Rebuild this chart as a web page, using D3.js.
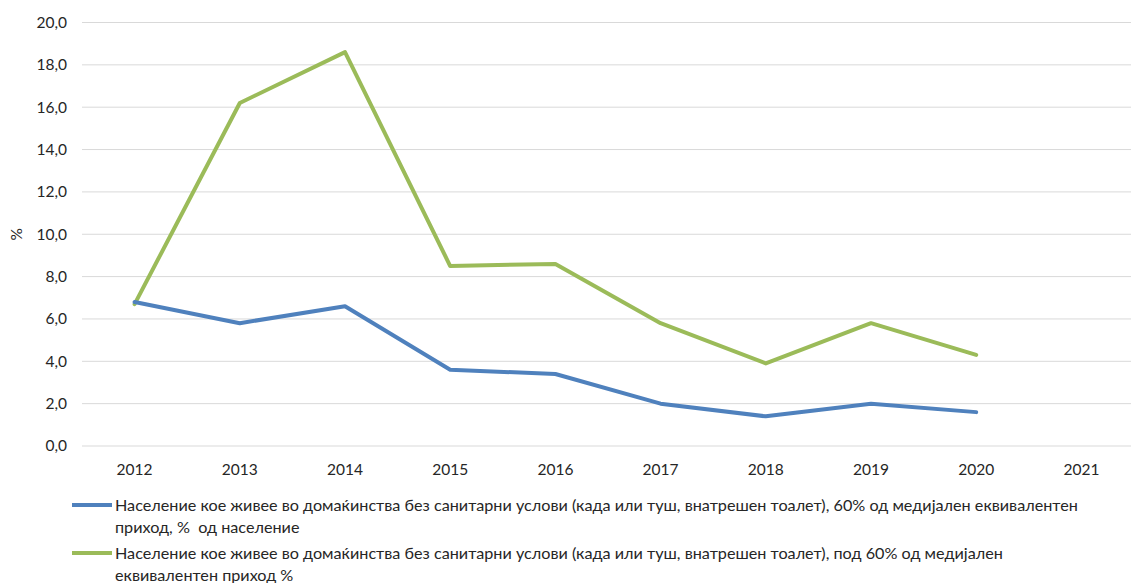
<!DOCTYPE html>
<html><head><meta charset="utf-8">
<script src="https://cdn.jsdelivr.net/npm/d3@7"></script>
<style>
body{margin:0;background:#fff;}
text{font-family:Lato,"Open Sans",sans-serif;fill:#262626;white-space:pre;}
</style></head>
<body>
<svg id="c" width="1131" height="583"></svg>
<script>
const years = ["2012","2013","2014","2015","2016","2017","2018","2019","2020","2021"];
const seriesBlue = [6.8, 5.8, 6.6, 3.6, 3.4, 2.0, 1.4, 2.0, 1.6, null];
const seriesGreen = [6.7, 16.2, 18.6, 8.5, 8.6, 5.8, 3.9, 5.8, 4.3, null];
const yTicks = [0, 2, 4, 6, 8, 10, 12, 14, 16, 18, 20];
const legendBlue = ["Население кое живее во домаќинства без санитарни услови (када или туш, внатрешен тоалет), 60% од медијален еквивалентен", "приход, %  од население"];
const legendGreen = ["Население кое живее во домаќинства без санитарни услови (када или туш, внатрешен тоалет), под 60% од медијален", "еквивалентен приход %"];
const yLabel = "%";

const svg = d3.select("#c");
const pLeft = 82, pRight = 1134, pTop = 22.5, pBottom = 446;
const x = d3.scaleBand().domain(years).range([pLeft, pRight]);
const y = d3.scaleLinear().domain([0, 20]).range([pBottom, pTop]);
const cx = d => x(d) + x.bandwidth() / 2;

// gridlines
svg.append("g").selectAll("line").data(yTicks).join("line")
  .attr("x1", pLeft).attr("x2", pRight)
  .attr("y1", d => y(d)).attr("y2", d => y(d))
  .attr("stroke", "#d9d9d9").attr("stroke-width", 1);

// y tick labels
svg.append("g").selectAll("text").data(yTicks).join("text")
  .attr("x", 67).attr("y", d => y(d)).attr("dy", "0.35em")
  .attr("text-anchor", "end").style("font-size", "15.5px")
  .text(d => d.toFixed(1).replace(".", ","));

// x tick labels
svg.append("g").selectAll("text").data(years).join("text")
  .attr("x", d => cx(d)).attr("y", 475)
  .attr("text-anchor", "middle").style("font-size", "15.5px")
  .text(d => d);

// y title
svg.append("text").attr("transform", `translate(22,${(pTop+pBottom)/2}) rotate(-90)`)
  .attr("text-anchor", "middle").style("font-size", "15.5px").text(yLabel);

const line = d3.line().defined(d => d[1] != null).x(d => cx(d[0])).y(d => y(d[1]));
function drawSeries(vals, color) {
  svg.append("path").datum(years.map((yr, i) => [yr, vals[i]]))
    .attr("d", line).attr("fill", "none").attr("stroke", color)
    .attr("stroke-width", 4).attr("stroke-linejoin", "round").attr("stroke-linecap", "round");
}
drawSeries(seriesGreen, "#9BBB59");
drawSeries(seriesBlue, "#4F81BD");

// legend
function legend(lines, color, y0) {
  svg.append("line").attr("x1", 72).attr("x2", 112).attr("y1", y0).attr("y2", y0)
    .attr("stroke", color).attr("stroke-width", 4);
  lines.forEach((t, i) => {
    svg.append("text").attr("x", 115).attr("y", y0 + i * 22).attr("dy", "0.35em")
      .style("font-size", "16.2px").text(t);
  });
}
legend(legendBlue, "#4F81BD", 505);
legend(legendGreen, "#9BBB59", 553);
</script>
</body></html>
